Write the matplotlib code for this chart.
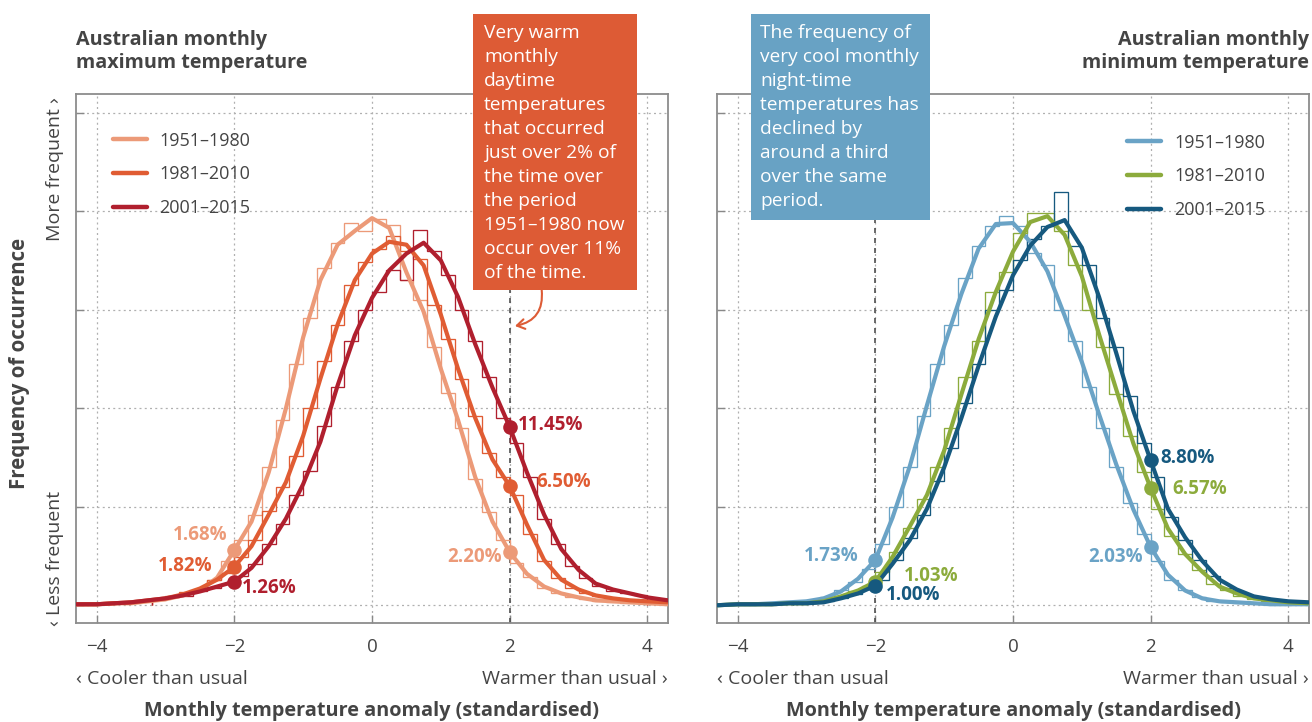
import numpy as np
import matplotlib
matplotlib.use("Agg")
import matplotlib.pyplot as plt
from matplotlib.lines import Line2D
from matplotlib.patches import Rectangle

plt.rcParams['font.family'] = ['Open Sans', 'DejaVu Sans']

# ---------------- data ----------------
x_grid = [-4.3, -4.0, -3.75, -3.5, -3.25, -3.0, -2.75, -2.5, -2.25, -2.0, -1.75, -1.5,
          -1.25, -1.0, -0.75, -0.5, -0.25, 0.0, 0.25, 0.5, 0.75, 1.0, 1.25, 1.5, 1.75,
          2.0, 2.25, 2.5, 2.75, 3.0, 3.25, 3.5, 3.75, 4.0, 4.3]

periods = ["1951\u20131980", "1981\u20132010", "2001\u20132015"]

# Maximum temperature: smoothed density curves
tmax_1951 = [.001, .001, .002, .002, .004, .006, .010, .015, .028, .056, .085, .135,
             .200, .272, .330, .366, .380, .393, .383, .338, .298, .240, .188, .130, .085,
             .054, .032, .019, .012, .008, .005, .004, .003, .002, .001]
tmax_1981 = [.001, .001, .002, .003, .005, .007, .011, .017, .026, .039, .060, .092,
             .125, .172, .230, .285, .330, .357, .369, .366, .345, .295, .240, .190, .148,
             .121, .082, .046, .026, .016, .010, .007, .005, .004, .003]
tmax_2001 = [.001, .001, .002, .003, .005, .007, .010, .014, .019, .024, .038, .060,
             .088, .123, .166, .223, .274, .312, .340, .357, .368, .350, .313, .265, .221,
             .181, .135, .092, .057, .036, .022, .016, .012, .008, .005]

# Minimum temperature: smoothed density curves
tmin_1951 = [.000, .001, .001, .002, .003, .004, .007, .014, .027, .046, .089, .141,
             .203, .263, .316, .362, .387, .388, .369, .339, .294, .247, .194, .143, .097,
             .059, .031, .015, .007, .004, .003, .002, .001, .001, .001]
tmin_1981 = [.000, .001, .001, .001, .002, .002, .004, .009, .015, .024, .049, .080,
             .112, .157, .214, .270, .318, .359, .389, .395, .376, .334, .275, .219, .164,
             .119, .078, .052, .034, .019, .012, .007, .005, .003, .002]
tmin_2001 = [.000, .001, .001, .001, .002, .002, .003, .007, .012, .020, .042, .066,
             .098, .140, .190, .243, .293, .335, .365, .384, .391, .363, .313, .256, .197,
             .147, .098, .069, .045, .026, .016, .009, .006, .004, .003]

# Histograms (bin width 0.2 starting at -3.2)
hist_start = -3.2
hist_width = 0.2
hmax_1951 = [.005, .008, .011, .015, .026, .045, .066, .092, .140, .188, .245, .292,
             .342, .368, .388, .380, .392, .386, .330, .310, .262, .215, .180, .128,
             .095, .066, .043, .029, .018, .012, .008, .006, .004, .003, .002, .002]
hmax_1981 = [.006, .009, .013, .016, .026, .033, .049, .066, .096, .120, .152, .200,
             .248, .285, .325, .348, .362, .375, .360, .352, .305, .270, .230, .192,
             .155, .130, .112, .072, .045, .028, .018, .012, .009, .007, .005, .004]
hmax_2001 = [.006, .008, .009, .014, .018, .022, .030, .042, .062, .082, .112, .136,
             .182, .222, .268, .300, .318, .340, .330, .381, .360, .335, .300, .268,
             .232, .190, .165, .130, .088, .062, .040, .028, .020, .014, .012, .010]
hmin_1951 = [.003, .005, .008, .016, .024, .037, .062, .100, .140, .192, .245, .285,
             .332, .365, .385, .395, .385, .358, .345, .300, .268, .222, .180, .140,
             .104, .072, .045, .026, .015, .008, .004, .003, .002, .002, .001, .001]
hmin_1981 = [.002, .003, .005, .009, .014, .020, .034, .054, .078, .108, .140, .180,
             .232, .268, .318, .338, .378, .398, .398, .380, .345, .300, .262, .214,
             .172, .135, .098, .070, .052, .036, .022, .015, .009, .006, .004, .003]
hmin_2001 = [.002, .003, .004, .007, .011, .017, .026, .046, .068, .092, .126, .160,
             .205, .245, .300, .320, .350, .372, .385, .420, .365, .345, .292, .262,
             .212, .165, .130, .090, .066, .046, .030, .018, .012, .008, .005, .004]

# Exceedance labels at x = -2 and x = +2
thresholds = [-2.0, 2.0]
lab_max_low = ["1.68%", "1.82%", "1.26%"]
lab_max_high = ["2.20%", "6.50%", "11.45%"]
lab_min_low = ["1.73%", "1.03%", "1.00%"]
lab_min_high = ["2.03%", "6.57%", "8.80%"]

xticks = [-4, -2, 0, 2, 4]
yticks = [0.0, 0.1, 0.2, 0.3, 0.4, 0.5]

col_max = ["#EC9A78", "#E05C33", "#B01F2E"]
col_min = ["#6AA3C6", "#8CAB3C", "#16597F"]
box_max = "#DD5B35"
box_min = "#68A2C4"
txt = "#444444"

# ---------------- figure ----------------
W, H = 1312, 722
fig = plt.figure(figsize=(W / 100, H / 100), dpi=100)


def fx(px):
    return px / W


def fy(py):
    return 1 - py / H


ax1 = fig.add_axes([fx(76), fy(623), (668 - 76) / W, (623 - 94) / H])
ax2 = fig.add_axes([fx(717), fy(623), (1309 - 717) / W, (623 - 94) / H])

edges = np.round(hist_start + hist_width * np.arange(len(hmax_1951) + 1), 3)
xg = np.array(x_grid)


def setup(ax, dash_x):
    ax.set_xlim(-4.3, 4.3)
    ax.set_ylim(-0.018, 0.519)
    ax.set_xticks(xticks)
    ax.set_xticklabels([("\u2212%d" % -t) if t < 0 else str(t) for t in xticks],
                       fontsize=13.5, color=txt)
    ax.set_yticks(yticks)
    ax.set_yticklabels([])
    ax.tick_params(direction='in', length=6, width=1.0, color='#888888', pad=11)
    for s in ax.spines.values():
        s.set_color('#8c8c8c')
        s.set_linewidth(1.3)
    ax.grid(True, color='#b0b0b0', linestyle=(0, (1.6, 2.6)), linewidth=0.9, zorder=0)
    ax.set_axisbelow(True)
    ax.axvline(dash_x, color='#505050', linestyle=(0, (3, 3)), linewidth=1.2, zorder=1)


def draw(ax, curves, hists, colors):
    for c, h, col in zip(curves, hists, colors):
        ax.stairs(h, edges, color=col, linewidth=0.95, zorder=2)
    for c, col in zip(curves, colors):
        ax.plot(xg, c, color=col, linewidth=3.0, solid_joinstyle='round',
                solid_capstyle='round', zorder=3)


setup(ax1, 2.0)
setup(ax2, -2.0)

curves_max = [tmax_1951, tmax_1981, tmax_2001]
curves_min = [tmin_1951, tmin_1981, tmin_2001]
draw(ax1, curves_max, [hmax_1951, hmax_1981, hmax_2001], col_max)
draw(ax2, curves_min, [hmin_1951, hmin_1981, hmin_2001], col_min)

# markers + labels
i_lo = x_grid.index(thresholds[0])
i_hi = x_grid.index(thresholds[1])


def mark(ax, curves, colors, labels_lo, labels_hi, offs_lo, offs_hi):
    for k in range(3):
        for idx, labs, offs in ((i_lo, labels_lo, offs_lo), (i_hi, labels_hi, offs_hi)):
            xv, yv = x_grid[idx], curves[k][idx]
            ax.plot([xv], [yv], 'o', color=colors[k], markersize=10.5, zorder=5 + k,
                    markeredgewidth=0)
            dx, dy, ha = offs[k]
            ax.annotate(labs[k], (xv, yv), xytext=(dx, dy), textcoords='offset pixels',
                        ha=ha, va='center', fontsize=13.5, fontweight='bold',
                        color=colors[k], zorder=8)


mark(ax1, curves_max, col_max, lab_max_low, lab_max_high,
     [(-7, 15, 'right'), (-22, 1, 'right'), (8, -6, 'left')],
     [(-8, -5, 'right'), (27, 4, 'left'), (8, 2, 'left')])
mark(ax2, curves_min, col_min, lab_min_low, lab_min_high,
     [(-17, 4, 'right'), (29, 6, 'left'), (11, -9, 'left')],
     [(-8, -10, 'right'), (22, -1, 'left'), (10, 2, 'left')])

# legends
h1 = [Line2D([], [], color=c, linewidth=3.2, solid_capstyle='round') for c in col_max]
h2 = [Line2D([], [], color=c, linewidth=3.2, solid_capstyle='round') for c in col_min]
for ax, hh, anchor, pad in ((ax1, h1, (0.0625, 0.929), 0.65),
                            (ax2, h2, (0.692, 0.925), 0.75)):
    leg = ax.legend(hh, periods, loc='upper left', bbox_to_anchor=anchor, frameon=False,
                    fontsize=13, handlelength=1.9, handletextpad=pad,
                    labelspacing=0.87, borderaxespad=0, borderpad=0)
    for t in leg.get_texts():
        t.set_color(txt)

# titles
fig.text(fx(76), fy(30), "Australian monthly\nmaximum temperature", ha='left', va='top',
         fontsize=14.2, fontweight='bold', color=txt, linespacing=1.2)
fig.text(fx(1309), fy(30), "Australian monthly\nminimum temperature", ha='right', va='top',
         fontsize=14.2, fontweight='bold', color=txt, linespacing=1.2,
         multialignment='right')

# axis labels
fig.text(fx(20), fy(363), "Frequency of occurrence", rotation=90, ha='center', va='center',
         fontsize=14.8, fontweight='bold', color=txt)
fig.text(fx(55), fy(97), "More frequent \u203a", rotation=90, ha='center', va='top',
         fontsize=14, color=txt)
fig.text(fx(55), fy(626), "\u2039 Less frequent", rotation=90, ha='center', va='bottom',
         fontsize=14, color=txt)

for x0, x1 in ((76, 668), (717, 1309)):
    fig.text(fx(x0), fy(679), "\u2039 Cooler than usual", ha='left', va='center',
             fontsize=14, color=txt)
    fig.text(fx(x1), fy(679), "Warmer than usual \u203a", ha='right', va='center',
             fontsize=14, color=txt)
    fig.text(fx((x0 + x1) / 2), fy(711), "Monthly temperature anomaly (standardised)",
             ha='center', va='center', fontsize=14.3, fontweight='bold', color=txt)

# annotation boxes
fig.add_artist(Rectangle((fx(473), fy(290)), 164 / W, 276 / H, transform=fig.transFigure,
                         facecolor=box_max, edgecolor='none', zorder=10))
fig.text(fx(484), fy(24),
         "Very warm\nmonthly\ndaytime\ntemperatures\nthat occurred\njust over 2% of\n"
         "the time over\nthe period\n1951\u20131980 now\noccur over 11%\nof the time.",
         ha='left', va='top', fontsize=13.8, color='white', linespacing=1.43, zorder=11)
fig.add_artist(Rectangle((fx(751), fy(220)), 179 / W, 206 / H, transform=fig.transFigure,
                         facecolor=box_min, edgecolor='none', zorder=10))
fig.text(fx(760), fy(24),
         "The frequency of\nvery cool monthly\nnight-time\ntemperatures has\n"
         "declined by\naround a third\nover the same\nperiod.",
         ha='left', va='top', fontsize=13.8, color='white', linespacing=1.43, zorder=11)


# arrows (figure pixel positions)
def fig_arrow(p0, p1, col, rad):
    ax1.annotate('', xy=(fx(p1[0]), fy(p1[1])), xycoords='figure fraction',
                 xytext=(fx(p0[0]), fy(p0[1])), textcoords='figure fraction',
                 arrowprops=dict(arrowstyle='->,head_length=0.55,head_width=0.35',
                                 color=col, lw=1.5,
                                 connectionstyle='arc3,rad=%s' % rad,
                                 shrinkA=0, shrinkB=0),
                 annotation_clip=False, zorder=12)


fig_arrow((541.7, 290), (515, 326), box_max, -0.45)
fig_arrow((841.7, 220), (868, 255), box_min, 0.4)

fig.savefig("out.png", dpi=100)
